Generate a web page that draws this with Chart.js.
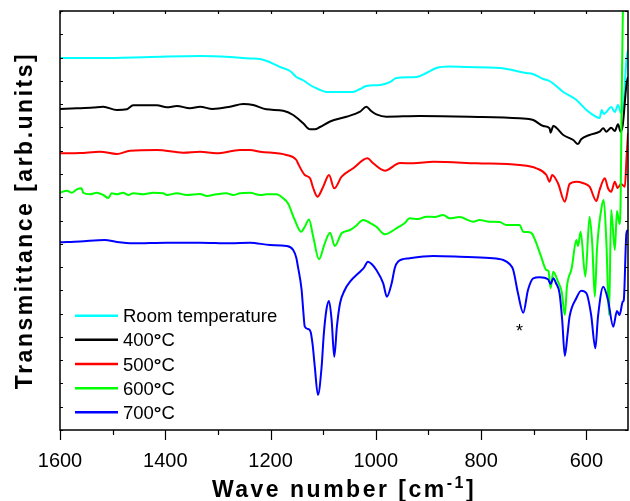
<!DOCTYPE html>
<html>
<head>
<meta charset="utf-8">
<script src="https://cdn.jsdelivr.net/npm/chart.js@4.4.1/dist/chart.umd.min.js"></script>
<style>
  html, body { margin: 0; padding: 0; background: #fff; }
  #c { display: block; }
</style>
</head>
<body>
<canvas id="c" width="630" height="501"></canvas>
<script>
const FONT = '"Liberation Sans", Arial, Helvetica, sans-serif';

const xTicks = [1600, 1400, 1200, 1000, 800, 600];
const seriesLabels = ['Room temperature', '400°C', '500°C', '600°C', '700°C'];
const seriesColors = ['#00ffff', '#000000', '#ff0000', '#00ff00', '#0000ff'];

// [wavenumber cm-1, transmittance] - traces are offset, arbitrary units
const roomTemp = [
  [1600, 372], [1524, 372], [1429, 373], [1334, 374], [1277, 373], [1239, 371.5], [1220, 371],
  [1207, 369], [1182, 363], [1163, 359], [1151, 353], [1139, 350], [1125, 345], [1110, 341],
  [1094, 338], [1068, 338], [1044, 338], [1030, 341], [1018, 344], [992, 345], [973, 348],
  [961, 352], [923, 353], [904, 357], [885, 362], [860, 363.5], [828, 363], [765, 362],
  [714, 357], [702, 356], [682, 351], [670, 349], [644, 338], [619, 330], [600, 320],
  [581, 313], [575, 312], [571, 320], [567, 316], [562, 318], [553, 323], [546, 318],
  [540, 325], [534, 317], [529, 330], [524, 370], [521, 380]
];
const t400 = [
  [1600, 321], [1568, 321.7], [1537, 322.5], [1518, 323.3], [1492, 320], [1473, 320.7],
  [1461, 324.7], [1416, 324.7], [1397, 322.7], [1378, 324], [1353, 321.7], [1334, 323.3],
  [1310, 321], [1277, 323.3], [1252, 326], [1233, 325], [1208, 320.7], [1176, 319.3],
  [1157, 315], [1138, 306.7], [1125, 300.7], [1116, 300.7], [1106, 303], [1087, 308.5],
  [1056, 313.3], [1030, 318.3], [1018, 323.3], [1009, 319], [999, 315.7], [980, 313.3],
  [917, 314], [822, 313.3], [727, 311.7], [701, 310], [682, 304], [670, 301.7], [668, 297.3],
  [663, 304], [644, 295], [625, 290], [616, 286], [610, 290.7], [594, 295], [575, 298.3],
  [568, 301.7], [562, 298.3], [553, 302.3], [546, 299], [540, 305.7], [535, 298.3],
  [531, 305], [524, 345], [521, 353]
];
const t500 = [
  [1600, 276.7], [1562, 277], [1524, 278.3], [1492, 276], [1467, 279.3], [1416, 280],
  [1366, 277.3], [1334, 278.3], [1303, 276.7], [1258, 280], [1239, 280], [1220, 278.3],
  [1170, 275], [1151, 270], [1148, 266.7], [1135, 255], [1125, 251.7], [1119, 242],
  [1111, 233.3], [1100, 243.3], [1089, 255], [1079, 241.7], [1065, 253.3], [1043, 261.7],
  [1016, 271.7], [1005, 266.7], [983, 259.3], [954, 267], [929, 266.7], [891, 268.3],
  [809, 266.7], [727, 265], [695, 261.7], [676, 255], [670, 248.3], [665, 255], [654, 246.7],
  [641, 228.3], [632, 246], [619, 248.3], [607, 247], [594, 243.3], [581, 229], [575, 240],
  [565, 251.7], [559, 241.7], [553, 238.3], [546, 248.3], [541, 242], [534, 246],
  [527, 243.3], [524, 270], [521, 297]
];
const t600 = [
  [1600, 237.3], [1587, 239.3], [1578, 237.3], [1568, 240.7], [1559, 241.7], [1556, 237.3],
  [1543, 235.7], [1530, 237.3], [1518, 235], [1508, 232], [1502, 236.7], [1492, 235.7],
  [1480, 237.3], [1470, 235], [1461, 236.7], [1442, 235.7], [1423, 237.3], [1404, 236.7],
  [1397, 235], [1378, 236.7], [1359, 235], [1334, 236], [1321, 234], [1303, 235.7],
  [1284, 236.7], [1271, 235], [1258, 236.7], [1239, 237.3], [1220, 235], [1208, 235.7],
  [1189, 235.7], [1176, 231.7], [1167, 226.7], [1154, 210], [1142, 198.3], [1135, 203.3],
  [1127, 210.5], [1119, 193.3], [1108, 170.7], [1097, 186.7], [1087, 197.3], [1078, 184],
  [1065, 196.7], [1049, 200], [1038, 204], [1024, 210], [1011, 207], [999, 203.3],
  [983, 195.7], [961, 201.7], [945, 207], [936, 211.7], [920, 211], [904, 213.3], [888, 213],
  [872, 215], [860, 211.7], [841, 213], [815, 208.3], [803, 210], [784, 208.3], [765, 208],
  [752, 205], [739, 205], [727, 205], [720, 198.3], [711, 198], [704, 196.7], [695, 186.7],
  [686, 173.3], [676, 160], [672, 159], [668, 141.7], [663, 158.3], [654, 148.3],
  [647, 138.3], [641, 115], [637, 143.3], [628, 161.7], [619, 190], [616, 184], [611, 198.3],
  [602, 153.3], [594, 213.3], [589, 186.7], [584, 133.3], [580, 180], [571, 223.3],
  [567, 230], [562, 186.7], [557, 115], [553, 220], [546, 180], [542, 219], [537, 206],
  [535, 230], [533, 330], [531, 410], [528, 440]
];
const t700 = [
  [1600, 187.7], [1562, 188.5], [1515, 190], [1492, 188], [1461, 186.7], [1397, 187.3],
  [1334, 187.3], [1277, 186.7], [1239, 187.3], [1201, 185], [1170, 184], [1157, 180],
  [1151, 172], [1148, 163.3], [1141, 140], [1138, 120], [1135, 103.3], [1129, 101],
  [1124, 98.3], [1120, 85], [1116, 63.3], [1110, 35], [1103, 63.3], [1099, 95], [1094, 120],
  [1089, 129], [1084, 110], [1079, 73.3], [1074, 103.3], [1068, 126.7], [1059, 140],
  [1049, 148.3], [1030, 158.3], [1023, 162], [1015, 168.3], [1008, 166], [999, 160],
  [986, 146.7], [979, 133.3], [970, 146.7], [964, 162], [958, 168.3], [936, 171.7],
  [891, 174], [841, 173.3], [784, 172], [758, 170], [746, 166], [739, 160], [730, 136.7],
  [720, 117.3], [711, 140], [701, 151.7], [689, 152.7], [673, 150.7], [668, 146],
  [663, 151.7], [658, 147], [651, 136.7], [646, 110], [641, 74], [636, 95], [632, 113.3],
  [619, 132], [610, 139.3], [600, 136.7], [591, 115], [583, 81.7], [578, 113.3],
  [568, 143.3], [559, 130], [549, 103.3], [542, 119], [537, 115], [531, 128.3], [529, 130],
  [524, 196.7], [521, 200]
];
const seriesData = [roomTemp, t400, t500, t600, t700];

const starMark = { x: 727, y: 103, text: '*' };
const yTickCount = 18;
const Y_MAX = 419;

const decorations = {
  id: 'decorations',
  afterDatasetsDraw(chart) {
    const { ctx, chartArea: a, scales: { x, y } } = chart;
    ctx.save();
    ctx.strokeStyle = '#000';
    ctx.lineWidth = 1.5;
    ctx.strokeRect(a.left, a.top, a.right - a.left, a.bottom - a.top);
    ctx.lineWidth = 1.2;
    ctx.beginPath();
    for (let v = 1600; v >= 600; v -= 100) {
      const px = Math.round(x.getPixelForValue(v)) + 0.5;
      ctx.moveTo(px, a.bottom); ctx.lineTo(px, a.bottom + (v % 200 === 0 ? 10 : 5));
      ctx.moveTo(px, a.top); ctx.lineTo(px, a.top + 3);
    }
    for (let k = 0; k <= yTickCount; k++) {
      const py = Math.round(y.getPixelForValue(Y_MAX * k / yTickCount)) + 0.5;
      ctx.moveTo(a.left, py); ctx.lineTo(a.left + 3, py);
      ctx.moveTo(a.right, py); ctx.lineTo(a.right - 3, py);
    }
    ctx.stroke();
    ctx.restore();
  },
  afterDraw(chart) {
    const { ctx, chartArea: a, scales: { x, y } } = chart;
    ctx.save();
    ctx.fillStyle = '#000';

    // legend, lower left inside the plot
    seriesLabels.forEach((label, i) => {
      const cy = 315.7 + i * 24.15;
      ctx.strokeStyle = seriesColors[i];
      ctx.lineWidth = 2.5;
      ctx.beginPath(); ctx.moveTo(75, cy); ctx.lineTo(118, cy); ctx.stroke();
      const parts = label.split('°');
      let tx = 123;
      ctx.textBaseline = 'alphabetic';
      ctx.textAlign = 'left';
      ctx.font = `18.5px ${FONT}`;
      ctx.fillText(parts[0], tx, cy + 6.6);
      tx += ctx.measureText(parts[0]).width;
      if (parts.length > 1) {
        ctx.font = `bold 19px ${FONT}`;
        ctx.fillText('°', tx, cy + 6.6);
        tx += ctx.measureText('°').width;
        ctx.font = `18.5px ${FONT}`;
        ctx.fillText(parts[1], tx, cy + 6.6);
      }
    });

    // asterisk marker
    ctx.font = `18px ${FONT}`;
    ctx.textAlign = 'center';
    ctx.textBaseline = 'alphabetic';
    ctx.fillText(starMark.text, x.getPixelForValue(starMark.x), y.getPixelForValue(starMark.y) + 10);

    // axis titles
    const cx = (a.left + a.right) / 2;
    ctx.letterSpacing = '2.5px';
    ctx.textAlign = 'left';
    const big = `bold 23px ${FONT}`, sup = `bold 16px ${FONT}`;
    ctx.font = big; const w1 = ctx.measureText('Wave number [cm').width;
    ctx.font = sup; const w2 = ctx.measureText('-1').width;
    ctx.font = big; const w3 = ctx.measureText(']').width;
    let tx = cx - (w1 + w2 + w3) / 2;
    ctx.font = big; ctx.fillText('Wave number [cm', tx, 496.5); tx += w1;
    ctx.font = sup; ctx.fillText('-1', tx, 488); tx += w2;
    ctx.font = big; ctx.fillText(']', tx, 496.5);

    ctx.translate(31.5, (a.top + a.bottom) / 2);
    ctx.rotate(-Math.PI / 2);
    ctx.textAlign = 'center';
    ctx.font = big;
    ctx.fillText('Transmittance [arb.units]', 0, 0);
    ctx.restore();
  }
};

new Chart(document.getElementById('c'), {
  type: 'line',
  data: {
    datasets: seriesData.map((d, i) => ({
      label: seriesLabels[i],
      data: d.map(([x, y]) => ({ x, y })),
      borderColor: seriesColors[i],
      backgroundColor: seriesColors[i],
      borderWidth: 2,
      pointRadius: 0,
      fill: false,
      cubicInterpolationMode: 'monotone'
    })).reverse()
  },
  options: {
    responsive: false,
    animation: false,
    devicePixelRatio: 1,
    layout: { padding: { top: 11, right: 2, left: 0, bottom: 0 } },
    plugins: { legend: { display: false }, tooltip: { enabled: false } },
    scales: {
      x: {
        type: 'linear', reverse: true, min: 521, max: 1600,
        afterBuildTicks: s => { s.ticks = xTicks.map(v => ({ value: v })); },
        afterFit: s => { s.height = 71; },
        grid: { display: false, drawTicks: false },
        border: { display: false },
        ticks: {
          color: '#000', font: { family: FONT, size: 20 }, padding: 19,
          maxRotation: 0, autoSkip: false, callback: v => String(v)
        }
      },
      y: {
        min: 0, max: Y_MAX,
        afterFit: s => { s.width = 60; },
        ticks: { display: false },
        grid: { display: false },
        border: { display: false }
      }
    }
  },
  plugins: [decorations]
});
</script>
</body>
</html>
